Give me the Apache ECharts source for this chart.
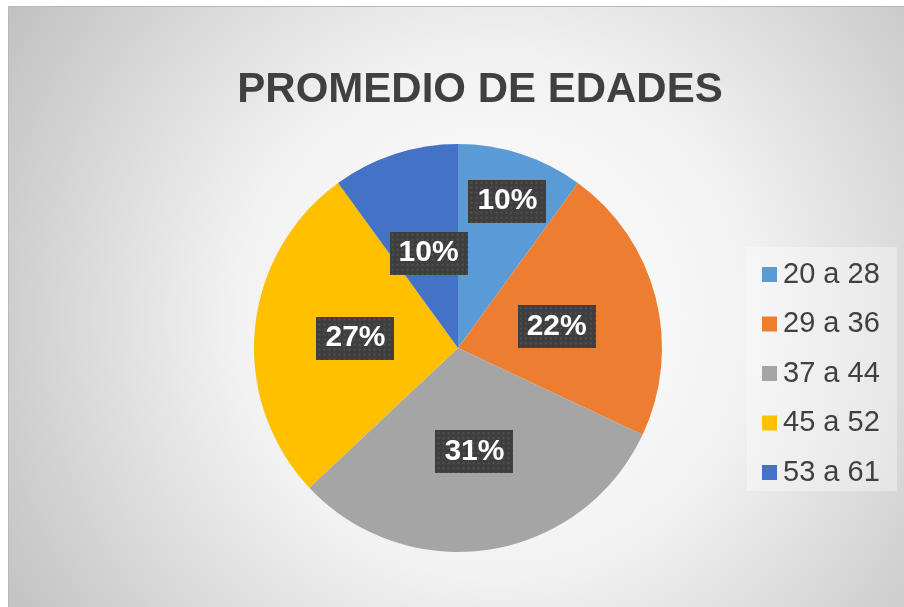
<!DOCTYPE html>
<html>
<head>
<meta charset="utf-8">
<script src="https://cdn.jsdelivr.net/npm/echarts@6/dist/echarts.min.js"></script>
<style>
html,body{margin:0;padding:0;background:#fff;}
#c{width:904px;height:607px;}
</style>
</head>
<body>
<div id="c"></div>
<script>
var categories = ['20 a 28', '29 a 36', '37 a 44', '45 a 52', '53 a 61'];
var values = [10, 22, 31, 27, 10];
var colors = ['#5B9BD5', '#ED7D31', '#A5A5A5', '#FFC000', '#4472C4'];
var titleText = 'PROMEDIO DE EDADES';

// dotted dark label background
var pat = document.createElement('canvas');
pat.width = 78; pat.height = 43;
var g = pat.getContext('2d');
g.fillStyle = '#3e3e3e';
g.fillRect(0, 0, 78, 43);
g.fillStyle = '#515151';
for (var yy = 2; yy < 43; yy += 5) {
  for (var xx = 2; xx < 78; xx += 5) {
    g.fillRect(xx, yy, 2, 2);
  }
}

// small label nudges (styling only)
var labelNudge = [[17, -47], [-3, 5], [0, 0], [2, 0], [3, 5]];

var chart = echarts.init(document.getElementById('c'), null, {renderer: 'canvas'});
var option = {
  animation: false,
  color: colors,
  graphic: [
    {
      type: 'rect', z: -10, silent: true,
      shape: {x: 8.5, y: 6.5, width: 920, height: 620},
      style: {
        fill: {
          type: 'radial', x: 0.53, y: 0.5, r: 0.92,
          colorStops: [
            {offset: 0, color: '#ffffff'},
            {offset: 0.45, color: '#f2f2f2'},
            {offset: 1, color: '#c2c2c2'}
          ]
        },
        stroke: '#b8b8b8', lineWidth: 1
      }
    },
    {
      type: 'rect', z: -9, silent: true,
      shape: {x: 747, y: 247, width: 150, height: 244},
      style: {fill: 'rgba(255,255,255,0.35)'}
    },
    {
      type: 'text', z: 10, silent: true,
      style: {
        text: titleText, x: 480, y: 90,
        align: 'center', verticalAlign: 'middle',
        font: 'bold 42px "Liberation Sans", Arial, sans-serif',
        fill: '#404040'
      }
    }
  ],
  legend: {
    orient: 'vertical',
    left: 762,
    top: 260,
    padding: 0,
    itemWidth: 15,
    itemHeight: 15,
    itemGap: 20.5,
    icon: 'rect',
    data: categories,
    textStyle: {
      fontFamily: '"Liberation Sans", Arial, sans-serif',
      fontSize: 29,
      lineHeight: 28,
      color: '#404040',
      padding: [0, 0, 0, 1]
    }
  },
  series: [{
    type: 'pie',
    center: [458, 348],
    radius: [0, 204],
    startAngle: 90,
    clockwise: true,
    avoidLabelOverlap: false,
    emphasis: {disabled: true},
    itemStyle: {borderWidth: 0},
    label: {
      show: true,
      position: 'inside',
      formatter: function (p) { return Math.round(p.percent) + '%'; },
      fontFamily: '"Liberation Sans", Arial, sans-serif',
      fontWeight: 'bold',
      fontSize: 30,
      lineHeight: 30,
      color: '#ffffff',
      backgroundColor: {image: pat},
      padding: [7, 9, 6, 9],
      overflow: 'none',
      shadowColor: 'rgba(0,0,0,0.55)',
      shadowBlur: 6,
      shadowOffsetX: 3,
      shadowOffsetY: 3
    },
    labelLine: {show: false},
    labelLayout: function (p) {
      var n = labelNudge[p.dataIndex] || [0, 0];
      return {dx: n[0], dy: n[1]};
    },
    data: categories.map(function (c, i) { return {name: c, value: values[i]}; })
  }]
};
chart.setOption(option);
</script>
</body>
</html>
